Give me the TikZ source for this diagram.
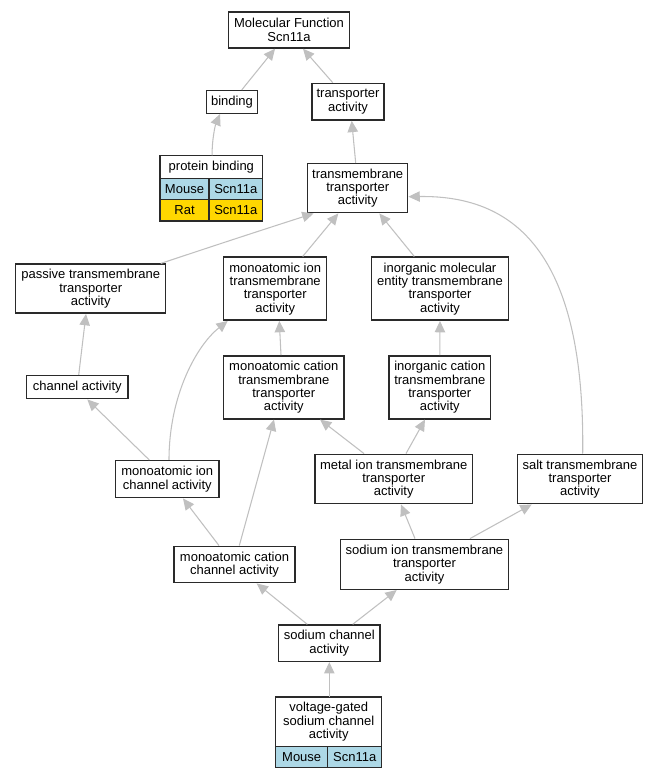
\documentclass[tikz,border=0pt]{standalone}
\usepackage{fontspec}
\setmainfont{Liberation Sans}
\usetikzlibrary{arrows.meta}
\newcommand{\px}{*0.75pt}
\definecolor{edgegray}{HTML}{C0C0C0}
\definecolor{boxline}{HTML}{2A2A2A}
\definecolor{mouseblue}{HTML}{ADD8E6}
\definecolor{ratgold}{HTML}{FFD700}
\newcommand{\gofont}{\fontsize{9.75}{10}\selectfont}
\tikzset{
  gobox/.style={draw=boxline, line width=1.1pt, fill=white, inner sep=0pt, align=center, font=\gofont},
  tablebox/.style={inner sep=0pt},
  celltext/.style={inner sep=0pt, align=center, font=\gofont},
  gridline/.style={draw=boxline, line width=1.1pt},
  goedge/.style={draw=edgegray, line width=0.8pt, -{Triangle[length=8.5pt,width=7.8pt]}},
}
\newcommand{\gobox}[6]{\node[gobox, minimum width={#4\px}, minimum height={#5\px}] (#1) at (#2,#3) {#6};}
\begin{document}
\begin{tikzpicture}[x=0.75pt,y=-0.75pt]
\useasboundingbox (0,0) rectangle (659,779);

% plain boxes
\gobox{mf}{289}{30}{120.6}{36}{Molecular Function\\Scn11a}
\gobox{bind}{232}{102}{50.6}{22.6}{binding}
\gobox{trans}{348}{101.7}{72}{36.7}{transporter\\activity}
\gobox{tt}{357.7}{188.2}{100}{49}{transmembrane\\transporter\\activity}
\gobox{passive}{90.7}{288.7}{150}{49}{passive transmembrane\\transporter\\activity}
\gobox{mitm}{275.2}{288.7}{103}{63}{monoatomic ion\\transmembrane\\transporter\\activity}
\gobox{imetm}{440}{288.7}{136.6}{63}{inorganic molecular\\entity transmembrane\\transporter\\activity}
\gobox{chan}{77.3}{387.2}{101.7}{23}{channel activity}
\gobox{mctm}{283.8}{387.3}{120.5}{63}{monoatomic cation\\transmembrane\\transporter\\activity}
\gobox{ictm}{439.8}{387.3}{101.5}{63}{inorganic cation\\transmembrane\\transporter\\activity}
\gobox{mich}{167.3}{479.2}{103.3}{37}{monoatomic ion\\channel activity}
\gobox{metal}{393.7}{479}{157.3}{49.4}{metal ion transmembrane\\transporter\\activity}
\gobox{salt}{580}{479}{125.4}{49.4}{salt transmembrane\\transporter\\activity}
\gobox{mcch}{234.5}{564.5}{121}{36.4}{monoatomic cation\\channel activity}
\gobox{natm}{424.5}{564.3}{167.6}{50}{sodium ion transmembrane\\transporter\\activity}
\gobox{nach}{329.3}{643.2}{101.3}{36.3}{sodium channel\\activity}

% protein binding table
\node[tablebox, minimum width={102.7\px}, minimum height={65.3\px}] (pb) at (211.35,188.35) {};
\fill[white] (160,155.7) rectangle (262.7,178.3);
\fill[mouseblue] (160,178.3) rectangle (262.7,199.7);
\fill[ratgold] (160,199.7) rectangle (262.7,221);
\draw[gridline] (160,155.7) rectangle (262.7,221);
\draw[gridline] (160,178.3) -- (262.7,178.3);
\draw[gridline] (160,199.7) -- (262.7,199.7);
\draw[gridline] (209,178.3) -- (209,221);
\node[celltext] (pbt) at (211.35,167) {protein binding};
\node[celltext] (pbm) at (184.5,189) {Mouse};
\node[celltext] (pbmg) at (235.85,189) {Scn11a};
\node[celltext] (pbr) at (184.5,210.35) {Rat};
\node[celltext] (pbrg) at (235.85,210.35) {Scn11a};

% voltage-gated table
\node[tablebox, minimum width={106\px}, minimum height={70.7\px}] (vg) at (328.7,732.35) {};
\fill[white] (275.7,697) rectangle (381.7,746.7);
\fill[mouseblue] (275.7,746.7) rectangle (381.7,767.7);
\draw[gridline] (275.7,697) rectangle (381.7,767.7);
\draw[gridline] (275.7,746.7) -- (381.7,746.7);
\draw[gridline] (327.7,746.7) -- (327.7,767.7);
\node[celltext] (vgt) at (328.7,721.85) {voltage-gated\\sodium channel\\activity};
\node[celltext] (vgm) at (301.7,757.2) {Mouse};
\node[celltext] (vgmg) at (354.7,757.2) {Scn11a};

% edges
\draw[goedge] ([xshift=9.7\px]bind.north) -- ([xshift=-14\px]mf.south);
\draw[goedge] ([xshift=-15.3\px]trans.north) -- ([xshift=14\px]mf.south);
\draw[goedge] ([xshift=0.7\px]pb.north) .. controls (212,140) and (215,126) .. ([xshift=-12\px]bind.south);
\draw[goedge] ([xshift=-2\px]tt.north) -- ([xshift=3.7\px]trans.south);
\draw[goedge] ([xshift=-5.7\px]passive.north east) .. controls (210,247) and (265,229) .. ([xshift=6.6\px]tt.south west);
\draw[goedge] ([xshift=27.5\px]mitm.north) -- ([xshift=-19.4\px]tt.south);
\draw[goedge] ([xshift=-25.7\px]imetm.north) -- ([xshift=21.6\px]tt.south);
\draw[goedge] ([xshift=2.7\px]salt.north) .. controls (585,260) and (520,195) .. ([yshift=-8.5\px]tt.east);
\draw[goedge] ([xshift=1.4\px]chan.north) -- ([xshift=-4.7\px]passive.south);
\draw[goedge] ([xshift=-18\px]mich.north) -- ([xshift=10\px]chan.south);
\draw[goedge] ([xshift=1.7\px]mich.north) .. controls (169,395) and (197,345) .. ([xshift=4.8\px]mitm.south west);
\draw[goedge] ([xshift=-2.8\px]mctm.north) -- ([xshift=4.1\px]mitm.south);
\draw[goedge] (ictm.north) -- (imetm.south);
\draw[goedge] ([xshift=-29.7\px]metal.north) -- ([xshift=36.2\px]mctm.south);
\draw[goedge] ([xshift=12.3\px]metal.north) -- ([xshift=-14.8\px]ictm.south);
\draw[goedge] ([xshift=-15.5\px]mcch.north) -- ([xshift=15.7\px]mich.south);
\draw[goedge] ([xshift=4.8\px]mcch.north) -- ([xshift=-9.8\px]mctm.south);
\draw[goedge] ([xshift=-9.5\px]natm.north) -- ([xshift=7.3\px]metal.south);
\draw[goedge] ([xshift=45.5\px]natm.north) -- ([xshift=-48.3\px]salt.south);
\draw[goedge] ([xshift=-22\px]nach.north) -- ([xshift=22.2\px]mcch.south);
\draw[goedge] ([xshift=23.4\px]nach.north) -- ([xshift=-27.8\px]natm.south);
\draw[goedge] ([xshift=0.6\px]vg.north) -- (nach.south);
\end{tikzpicture}
\end{document}
